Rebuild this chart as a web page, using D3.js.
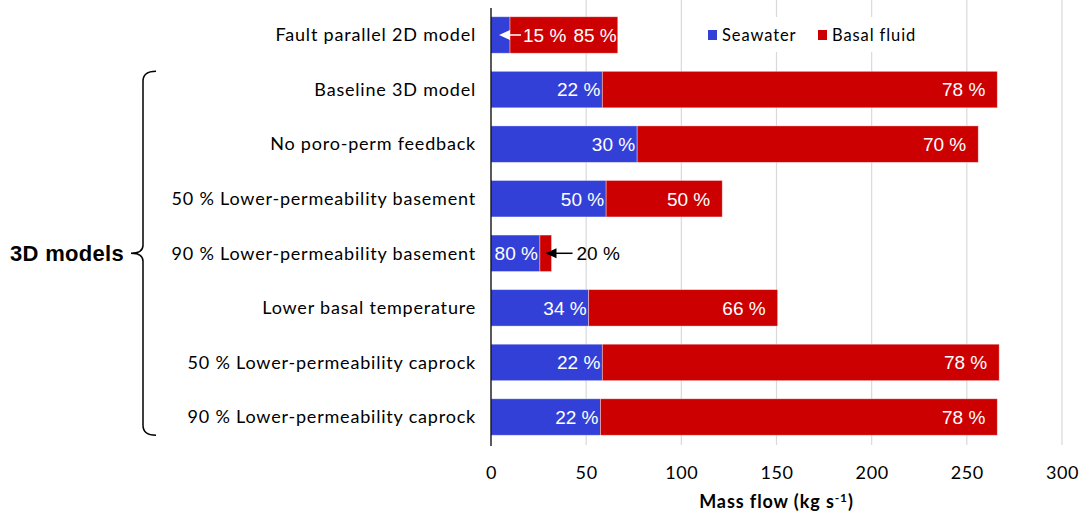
<!DOCTYPE html>
<html><head><meta charset="utf-8">
<script src="https://cdn.jsdelivr.net/npm/d3@7"></script>
<style>body{margin:0;background:#fff}svg{display:block}</style>
</head><body><svg id="c" width="1081" height="518"></svg>
<script>
const categories = ["Fault parallel 2D model","Baseline 3D model","No poro-perm feedback","50 % Lower-permeability basement","90 % Lower-permeability basement","Lower basal temperature","50 % Lower-permeability caprock","90 % Lower-permeability caprock"];
const seawater = [10.0, 58.5, 76.8, 60.5, 25.7, 51.3, 58.5, 57.5];
const basalFluid = [56.6, 207.5, 179.2, 61.0, 6.1, 99.3, 208.5, 208.5];
const seawaterPct = ["15 %","22 %","30 %","50 %","80 %","34 %","22 %","22 %"];
const basalPct = ["85 %","78 %","70 %","50 %","20 %","66 %","78 %","78 %"];
const xTicks = [0,50,100,150,200,250,300];
const seriesNames = ["Seawater","Basal fluid"];
const colors = ["#3340D8","#CC0000"];

const svg = d3.select("#c");
const x = d3.scaleLinear().domain([0,300]).range([491,1062]);
const y = d3.scaleBand().domain(categories).range([7.7,444.3]).paddingInner(0.332).paddingOuter(0.166);
const lab = "Lato, 'Noto Sans', sans-serif";
const arial = "'Liberation Sans', Arial, sans-serif";
const vfs = 19;

// gridlines
svg.append("g").selectAll("line").data(xTicks.slice(1)).join("line")
  .attr("x1",d=>x(d)).attr("x2",d=>x(d)).attr("y1",0).attr("y2",445)
  .attr("stroke","#d9d9d9").attr("stroke-width",1.2);

// x axis tick labels
const xa = svg.append("g").attr("transform","translate(0,445)")
  .call(d3.axisBottom(x).tickValues(xTicks).tickSize(0).tickPadding(21));
xa.select(".domain").remove();
xa.selectAll("text").attr("font-family",lab).attr("font-size",18).attr("letter-spacing",0.6).attr("fill","#000");

svg.append("text").attr("x",(x(0)+x(300))/2).attr("y",508).attr("text-anchor","middle")
  .attr("font-family",lab).attr("font-weight","bold").attr("font-size",18).attr("letter-spacing",0.9)
  .html('Mass flow (kg s<tspan dy="-6" font-size="12">-1</tspan><tspan dy="6">)</tspan>');

// legend background + legend
const lg = svg.append("g");
lg.append("rect").attr("x",700).attr("y",17).attr("width",222).attr("height",35).attr("fill","#fff");
const lx = [708, 818];
seriesNames.forEach((n,i)=>{
  lg.append("rect").attr("x",lx[i]).attr("y",30).attr("width",9).attr("height",10).attr("fill",colors[i]);
  lg.append("text").attr("x",lx[i]+14).attr("y",40.5).attr("font-family",lab).attr("font-size",16.5)
    .attr("letter-spacing",0.9).text(n);
});

// bars
const rows = categories.map((c,i)=>({c, s:seawater[i], b:basalFluid[i], sp:seawaterPct[i], bp:basalPct[i], i}));
const g = svg.append("g");
g.selectAll("rect.s").data(rows).join("rect").attr("class","s")
  .attr("x",x(0)).attr("y",d=>y(d.c)).attr("width",d=>x(d.s)-x(0)).attr("height",y.bandwidth())
  .attr("fill",colors[0]).attr("stroke","rgba(255,255,255,0.45)").attr("stroke-width",0.8);
g.selectAll("rect.b").data(rows).join("rect").attr("class","b")
  .attr("x",d=>x(d.s)).attr("y",d=>y(d.c)).attr("width",d=>x(d.s+d.b)-x(d.s)).attr("height",y.bandwidth())
  .attr("fill",colors[1]).attr("stroke","rgba(255,255,255,0.45)").attr("stroke-width",0.8);

// y axis line
svg.append("line").attr("x1",491).attr("x2",491).attr("y1",8).attr("y2",446).attr("stroke","#000").attr("stroke-width",1.3);

// category labels
svg.append("g").selectAll("text").data(categories).join("text")
  .attr("x",476).attr("y",d=>y(d)+y.bandwidth()/2+6.3).attr("text-anchor","end")
  .attr("font-family",lab).attr("font-size",18).attr("letter-spacing",0.8).text(d=>d);

// value labels
const cy = d=>y(d.c)+y.bandwidth()/2+6.8;
const normal = rows.filter(d=>d.i!==0 && d.i!==4);
g.selectAll("text.sl").data(rows.filter(d=>d.i!==0)).join("text").attr("class","sl")
  .attr("x",d=>x(d.s)-2).attr("y",cy).attr("text-anchor","end")
  .attr("font-family",arial).attr("font-size",vfs).attr("fill","#fff").text(d=>d.sp);
g.selectAll("text.bl").data(normal).join("text").attr("class","bl")
  .attr("x",d=>x(d.s+d.b)-12).attr("y",cy).attr("text-anchor","end")
  .attr("font-family",arial).attr("font-size",vfs).attr("fill","#fff").text(d=>d.bp);

// fault parallel row annotations
const r0 = rows[0];
const y0 = y(r0.c)+y.bandwidth()/2;
function arrow(x1,x2,yy,col){
  g.append("line").attr("x1",x1).attr("x2",x2+6).attr("y1",yy).attr("y2",yy).attr("stroke",col).attr("stroke-width",1.5);
  g.append("path").attr("d",`M${x2},${yy}L${x2+11},${yy-5}L${x2+11},${yy+5}Z`).attr("fill",col);
}
arrow(x(r0.s)+11, x(r0.s)-11, y0, "#fff");
g.append("text").attr("x",x(r0.s)+13).attr("y",y0+6.8).attr("font-family",arial).attr("font-size",vfs).attr("fill","#fff").text(r0.sp);
g.append("text").attr("x",x(r0.s+r0.b)-1).attr("y",y0+6.8).attr("text-anchor","end").attr("font-family",arial).attr("font-size",vfs).attr("fill","#fff").text(r0.bp);

// 90% basement row annotation
const r4 = rows[4];
const y4 = y(r4.c)+y.bandwidth()/2;
arrow(x(r4.s+r4.b)+21, x(r4.s+r4.b)-6, y4, "#000");
g.append("text").attr("x",x(r4.s+r4.b)+25).attr("y",y4+6.8).attr("font-family",arial).attr("font-size",vfs).attr("fill","#000").text(r4.bp);

// brace + group label
const bt = y(categories[1]), bb = y(categories[7])+y.bandwidth(), bm = (bt+bb)/2;
svg.append("path").attr("fill","none").attr("stroke","#000").attr("stroke-width",1.5)
  .attr("d",`M156,${bt}Q143,${bt} 143,${bt+10}L143,${bm-8}Q143,${bm} 131,${bm}Q143,${bm} 143,${bm+8}L143,${bb-10}Q143,${bb} 156,${bb}`);
svg.append("text").attr("x",10).attr("y",bm+7.5).attr("font-family",arial).attr("font-weight","bold").attr("font-size",22).attr("letter-spacing",0.3).text("3D models");
</script></body></html>
